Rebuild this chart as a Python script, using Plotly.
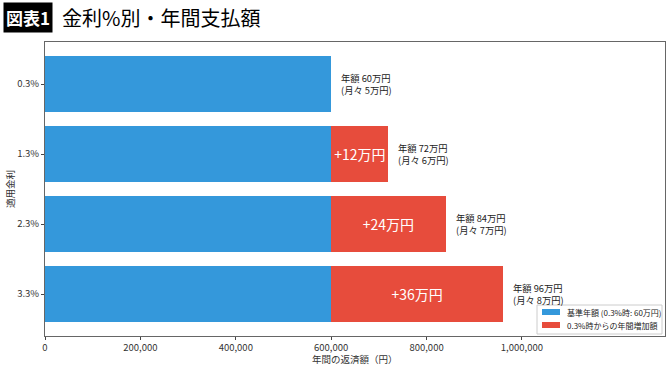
import plotly.graph_objects as go

rates = ["0.3%", "1.3%", "2.3%", "3.3%"]
base = [600000, 600000, 600000, 600000]
extra = [0, 120000, 240000, 360000]
annual_man = [60, 72, 84, 96]
monthly_man = [5, 6, 7, 8]
extra_labels = ["", "+12万円", "+24万円", "+36万円"]
xticks = [0, 200000, 400000, 600000, 800000, 1000000]
legend_names = ["基準年額 (0.3%時: 60万円)", "0.3%時からの年間増加額"]
colors = ["#3498db", "#e74c3c"]

FONT = "Noto Sans CJK JP"
W, H = 670, 366
L, R, T, B = 45, 5, 42, 30
pw, ph = W - L - R, H - T - B


def px(xp):
    return (xp - L) / pw


def py(yp):
    return (H - B - yp) / ph


fig = go.Figure()
fig.add_trace(go.Bar(y=rates, x=base, orientation="h", name=legend_names[0],
                     marker=dict(color=colors[0], line=dict(width=0)), width=0.8))
fig.add_trace(go.Bar(y=rates, x=extra, orientation="h", name=legend_names[1],
                     marker=dict(color=colors[1], line=dict(width=0)), width=0.8,
                     text=extra_labels, textposition="inside", insidetextanchor="middle",
                     textfont=dict(color="white", size=14.5, family=FONT), hoverinfo="x"))

ann = []
for r, b, e, a, m in zip(rates, base, extra, annual_man, monthly_man):
    ann.append(dict(x=b + e, y=r, xref="x", yref="y", xanchor="left", yanchor="middle",
                    xshift=8, showarrow=False, align="left",
                    text=f"年額 {a}万円<br>(月々 {m}万円)",
                    font=dict(size=9.3, color="#222", family=FONT)))

ann.append(dict(x=px(3), y=py(17), xref="paper", yref="paper", xanchor="left", yanchor="middle",
                showarrow=False, text="<b>図表1</b>", bgcolor="black", borderpad=2,
                font=dict(size=17, color="white", family=FONT)))
ann.append(dict(x=px(60), y=py(17), xref="paper", yref="paper", xanchor="left", yanchor="middle",
                showarrow=False, text="金利%別・年間支払額",
                font=dict(size=20, color="black", family=FONT)))
# axis titles
ann.append(dict(x=0.5, y=py(359), xref="paper", yref="paper", xanchor="center", yanchor="middle",
                showarrow=False, text="年間の返済額（円）", font=dict(size=9.5, color="#333", family=FONT)))
ann.append(dict(x=px(10), y=0.5, xref="paper", yref="paper", xanchor="center", yanchor="middle",
                showarrow=False, text="適用金利", textangle=-90,
                font=dict(size=9.5, color="#333", family=FONT)))

# custom legend (box, swatches, labels)
shapes = [dict(type="rect", xref="paper", yref="paper", x0=px(537), x1=px(662), y0=py(334), y1=py(305),
               line=dict(color="#cccccc", width=1), fillcolor="rgba(255,255,255,0.9)", layer="above")]
for i, (nm, c) in enumerate(zip(legend_names, colors)):
    yc = 312 + i * 13
    shapes.append(dict(type="rect", xref="paper", yref="paper", x0=px(542), x1=px(560),
                       y0=py(yc + 3), y1=py(yc - 3), line=dict(width=0), fillcolor=c, layer="above"))
    ann.append(dict(x=px(565), y=py(yc), xref="paper", yref="paper", xanchor="left", yanchor="middle",
                    showarrow=False, text=nm, font=dict(size=8, color="#222", family=FONT)))

fig.update_layout(
    width=W, height=H, margin=dict(l=L, r=R, t=T, b=B, autoexpand=False),
    barmode="stack", bargap=0.2,
    plot_bgcolor="white", paper_bgcolor="white",
    font=dict(family=FONT, size=9.5, color="#333"),
    showlegend=False,
    annotations=ann, shapes=shapes,
    uniformtext=dict(minsize=8, mode="show"),
)
fig.update_xaxes(range=[0, 1300000], tickvals=xticks, tickformat=",", ticks="outside",
                 ticklen=3, tickcolor="#444", showgrid=False, zeroline=False, automargin=False,
                 showline=True, linecolor="#666", linewidth=1, mirror=True,
                 tickfont=dict(size=9.5, family=FONT))
fig.update_yaxes(categoryorder="array", categoryarray=rates, autorange=False, range=[3.6, -0.6],
                 ticks="outside", ticklen=3, tickcolor="#444", showgrid=False, zeroline=False,
                 automargin=False,
                 showline=True, linecolor="#666", linewidth=1, mirror=True,
                 tickfont=dict(size=9.5, family=FONT))

fig.write_html("out.html", config={"displayModeBar": False},
               post_script="document.documentElement.style.overflow='hidden';"
                           "document.body.style.margin='0';document.body.style.overflow='hidden';")
